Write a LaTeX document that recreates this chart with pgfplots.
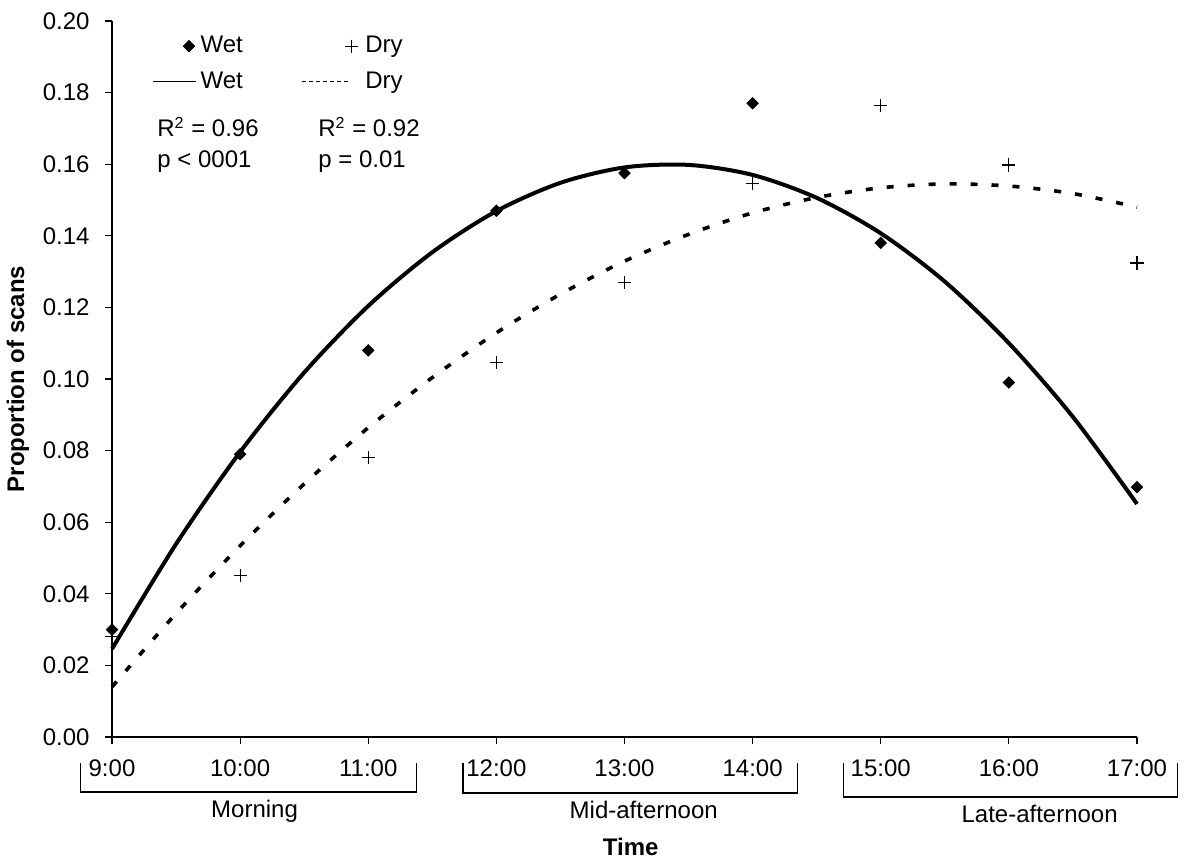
\documentclass[border=0pt]{standalone}
\usepackage{fontspec}
\setmainfont{Liberation Sans}
\usepackage{pgfplots}
\usepackage{pgfplotstable}
\pgfplotsset{compat=1.18}

% observed proportions of scans
\pgfplotstableread{
hour  wet     dry
9     0.030   0.028
10    0.079   0.045
11    0.108   0.078
12    0.147   0.1045
13    0.1575  0.127
14    0.177   0.1545
15    0.138   0.1765
16    0.099   0.1598
17    0.0698  0.1324
}\scans

% polynomial trend lines
\pgfplotstableread{
hour  wet     dry
9.0   0.0246  0.0140
9.5   0.0539  0.0345
10.0  0.0796  0.0534
10.5  0.1018  0.0707
11.0  0.1204  0.0864
11.5  0.1354  0.1004
12.0  0.1469  0.1129
12.5  0.1548  0.1237
13.0  0.1591  0.1329
13.5  0.1598  0.1404
14.0  0.1570  0.1464
14.5  0.1506  0.1507
15.0  0.1407  0.1534
15.5  0.1272  0.1545
16.0  0.1100  0.1539
16.5  0.0894  0.1518
17.0  0.0651  0.1480
}\trend

% invisible box so that legend images of one column have the same width
\newcommand\imgbox[1]{\pgfpathrectangle{\pgfqpoint{0pt}{-3.5pt}}{\pgfqpoint{#1}{7pt}}\pgfusepath{discard}}

\pgfplotsset{
  wetmarkimg/.style={legend image code/.code={\imgbox{21.5pt}
      \draw[mark repeat=2, mark phase=2, ##1] plot coordinates {(0pt,0pt) (18pt,0pt) (21.5pt,0pt)};}},
  drymarkimg/.style={legend image code/.code={\imgbox{29.5pt}
      \draw[mark repeat=2, mark phase=2, ##1] plot coordinates {(0pt,0pt) (24.5pt,0pt) (29.5pt,0pt)};}},
  wetlineimg/.style={legend image code/.code={\imgbox{21.5pt}
      \draw[##1, line width=0.6pt] (0pt,0pt) -- (21.5pt,0pt);}},
  drylineimg/.style={legend image code/.code={\imgbox{29.5pt}
      \draw[##1, line width=0.5pt, dash pattern=on 2pt off 1.5pt] (0pt,0pt) -- (24.5pt,0pt);}},
}

\begin{document}
\begin{tikzpicture}[font=\fontsize{12}{14}\selectfont]
  \begin{axis}[
      scale only axis, width=512.5pt, height=358pt,
      xmin=9, xmax=17, ymin=0, ymax=0.2,
      clip=false,
      axis x line=bottom, axis y line=left,
      axis line style={-, line width=0.6pt},
      xtick={9,10,...,17},
      xticklabels={9:00,10:00,11:00,12:00,13:00,14:00,15:00,16:00,17:00},
      ytick={0,0.02,0.04,0.06,0.08,0.10,0.12,0.14,0.16,0.18,0.20},
      scaled y ticks=false,
      tick align=outside, major tick length=3.5pt,
      tick style={black, line width=0.6pt},
      /pgf/number format/assume math mode=true,
      yticklabel style={/pgf/number format/fixed, /pgf/number format/fixed zerofill,
                        /pgf/number format/precision=2, xshift=-4.2pt},
      xticklabel style={yshift=-4.2pt},
      xlabel={\bfseries Time},
      ylabel={\bfseries Proportion of scans},
      every axis x label/.style={at={(rel axis cs:0.506,0)}, yshift=-59pt, anchor=base},
      every axis y label/.style={at={(rel axis cs:0,0.5)}, xshift=-47pt, rotate=90, anchor=center},
      legend columns=2, legend cell align=left,
      legend style={at={(rel axis cs:0,1)}, anchor=north west, xshift=20pt, yshift=-5.5pt,
                    draw=none, fill=none, inner sep=0pt, row sep=4pt,
                    /tikz/every even column/.append style={column sep=27.5pt}},
    ]

    \addplot[only marks, mark=square*, mark size=2pt, mark options={rotate=45, fill=black}, wetmarkimg]
      table[x=hour, y=wet] {\scans};
    \addlegendentry{Wet}

    \addplot[only marks, mark=+, mark size=3.3pt, mark options={line width=0.6pt}, drymarkimg]
      table[x=hour, y=dry] {\scans};
    \addlegendentry{Dry}

    \addplot[black, line width=2pt, smooth, no marks, wetlineimg]
      table[x=hour, y=wet] {\trend};
    \addlegendentry{Wet}

    \addplot[black, line width=1.8pt, smooth, no marks, dash pattern=on 3.5pt off 7pt, drylineimg]
      table[x=hour, y=dry] {\trend};
    \addlegendentry{Dry}

    % statistics
    \node[anchor=base west, inner sep=0pt] at ([xshift=22.5pt, yshift=-58pt]rel axis cs:0,1) {R\textsuperscript{2} = 0.96};
    \node[anchor=base west, inner sep=0pt] at ([xshift=22.5pt, yshift=-73.5pt]rel axis cs:0,1) {p < 0001};
    \node[anchor=base west, inner sep=0pt] at ([xshift=103pt, yshift=-58pt]rel axis cs:0,1) {R\textsuperscript{2} = 0.92};
    \node[anchor=base west, inner sep=0pt] at ([xshift=103pt, yshift=-73.5pt]rel axis cs:0,1) {p = 0.01};

    % time-of-day brackets
    \draw[line width=0.6pt] ([yshift=-13pt]axis cs:8.755,0) |- ([yshift=-27.5pt]axis cs:11.375,0) -- ([yshift=-13pt]axis cs:11.375,0);
    \draw[line width=0.6pt] ([yshift=-13pt]axis cs:11.74,0) |- ([yshift=-28pt]axis cs:14.35,0) -- ([yshift=-13pt]axis cs:14.35,0);
    \draw[line width=0.6pt] ([yshift=-13pt]axis cs:14.709,0) |- ([yshift=-30pt]axis cs:17.318,0) -- ([yshift=-13pt]axis cs:17.318,0);
    \node[anchor=base] at ([yshift=-40pt]axis cs:10.113,0) {Morning};
    \node[anchor=base] at ([yshift=-40.6pt]axis cs:13.15,0) {Mid-afternoon};
    \node[anchor=base] at ([yshift=-42.8pt]axis cs:16.24,0) {Late-afternoon};

    \coordinate (ll) at (rel axis cs:0,0);
    \coordinate (ur) at (rel axis cs:1,1);
  \end{axis}
  \pgfresetboundingbox
  \path[use as bounding box] ([xshift=-56pt, yshift=-62pt]ll) rectangle ([xshift=25.5pt, yshift=10.5pt]ur);
\end{tikzpicture}
\end{document}
